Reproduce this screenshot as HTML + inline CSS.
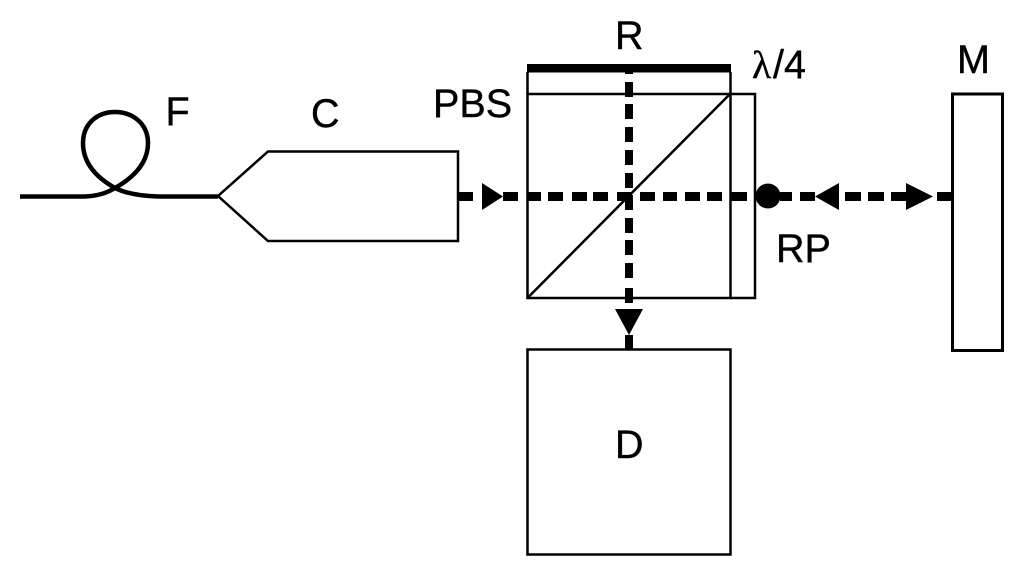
<!DOCTYPE html>
<html>
<head>
<meta charset="utf-8">
<style>
html,body{margin:0;padding:0;background:#fff}
svg{display:block}
text{font-family:"Liberation Sans",sans-serif;font-size:39.5px;fill:#000;stroke:#000;stroke-width:0.4px}
</style>
</head>
<body>
<svg width="1024" height="576" viewBox="0 0 1024 576" xmlns="http://www.w3.org/2000/svg">
<rect width="1024" height="576" fill="#fff"/>
<!-- fibre -->
<path d="M20 196.500 H85 C98 196 107 193 115 188 C99 179 83 165 83 143 C83 124 97 112 115 112 C133 112 148 124 148 143 C148 165 131 179 115 188 C125 193 140 196 158 196.500 H218" fill="none" stroke="#000" stroke-width="4.500"/>
<!-- collimator -->
<path d="M218 196 L268 151.500 H458 V241 H268 Z" fill="none" stroke="#000" stroke-width="2.500"/>
<!-- PBS -->
<rect x="527.500" y="94" width="203" height="204" fill="none" stroke="#000" stroke-width="2.500"/>
<line x1="527.500" y1="72" x2="527.500" y2="94" stroke="#000" stroke-width="2.500"/>
<line x1="730.500" y1="72" x2="730.500" y2="94" stroke="#000" stroke-width="2.500"/>
<line x1="730" y1="94" x2="527.500" y2="298" stroke="#000" stroke-width="2.500"/>
<!-- lambda/4 -->
<path d="M730 94 H755 V298 H730" fill="none" stroke="#000" stroke-width="2.500"/>
<!-- R -->
<rect x="527" y="64" width="204" height="8.500" fill="#000"/>
<!-- M -->
<rect x="952.500" y="94" width="50" height="256.500" fill="#fff" stroke="#000" stroke-width="3"/>
<!-- D -->
<rect x="527.500" y="349.500" width="203" height="205" fill="#fff" stroke="#000" stroke-width="2.500"/>
<!-- horizontal dashes -->
<g fill="#000">
<rect x="459" y="192" width="14" height="9"/>
<rect x="503" y="192" width="15" height="9"/>
<rect x="527" y="192" width="14" height="9"/>
<rect x="548" y="192" width="15" height="9"/>
<rect x="572" y="192" width="15" height="9"/>
<rect x="593" y="192" width="15" height="9"/>
<rect x="617" y="192" width="15" height="9"/>
<rect x="640" y="192" width="15" height="9"/>
<rect x="663" y="192" width="14" height="9"/>
<rect x="685" y="192" width="15" height="9"/>
<rect x="707" y="192" width="15" height="9"/>
<rect x="730" y="192" width="17" height="9"/>
<rect x="780" y="192" width="12" height="9"/>
<rect x="800" y="192" width="15" height="9"/>
<rect x="845" y="192" width="16" height="9"/>
<rect x="868" y="192" width="16" height="9"/>
<rect x="891" y="192" width="15" height="9"/>
<rect x="937" y="192" width="15" height="9"/>
<!-- vertical dashes -->
<rect x="625" y="72" width="8" height="2"/>
<rect x="625" y="82" width="8" height="15"/>
<rect x="625" y="104" width="8" height="15"/>
<rect x="625" y="127" width="8" height="15"/>
<rect x="625" y="150" width="8" height="15"/>
<rect x="625" y="173" width="8" height="15"/>
<rect x="625" y="195" width="8" height="15"/>
<rect x="625" y="218" width="8" height="15"/>
<rect x="625" y="240" width="8" height="15"/>
<rect x="625" y="263" width="8" height="15"/>
<rect x="625" y="288" width="8" height="15"/>
<rect x="625" y="335" width="8" height="14"/>
<!-- arrowheads -->
<polygon points="482,183 503,196.500 482,210"/>
<polygon points="839,183 815,196.500 839,210"/>
<polygon points="906,183 933,196.500 906,210"/>
<polygon points="615,309 643,309 629,335"/>
<circle cx="768" cy="196" r="12.500"/>
</g>
<!-- labels -->
<text x="165.500" y="125">F</text>
<text x="311" y="127">C</text>
<text x="615" y="49">R</text>
<text x="433" y="117">PBS</text>
<text x="752" y="78" style="font-family:'Liberation Serif',serif">λ</text>
<text x="773" y="78">/4</text>
<text x="957" y="73">M</text>
<text x="776" y="262">RP</text>
<text x="615" y="458">D</text>
</svg>
</body>
</html>
